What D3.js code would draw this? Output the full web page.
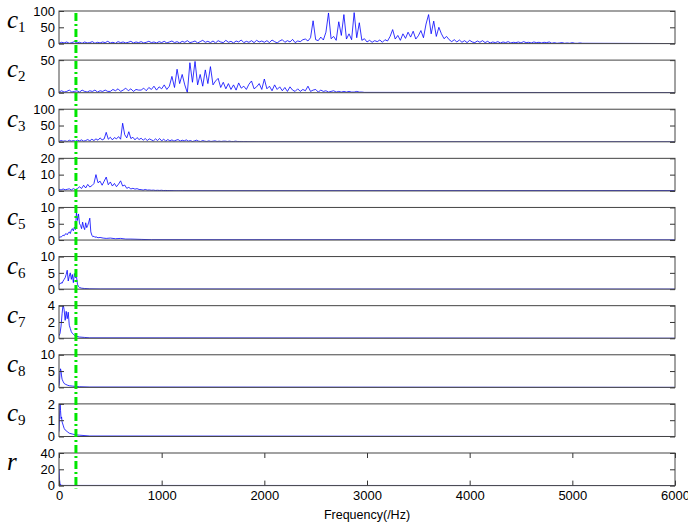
<!DOCTYPE html>
<html>
<head>
<meta charset="utf-8">
<script src="https://cdn.jsdelivr.net/npm/d3@7"></script>
<style>
    body { margin: 0; background: #fff; }
    svg { display: block; font-family: Arial, "Liberation Sans", sans-serif; }
</style>
</head>
<body>
<div id="chart-container"></div>
<script>
// Spectra of the components
// c1..c4 are on a regular frequency grid (Hz step), the rest are freq/amp pairs
const c1Step = 25;
const c1Vals = [
    1,4,2,5,1,3,6,2,4,1,5,2,3,6,1,4,2,5,3,7,2,4,1,6,3,5,2,4,7,2,5,3,6,2,4,7,3,5,2,6,
    3,7,2,5,8,3,6,2,7,4,9,3,5,8,2,6,10,4,7,3,8,2,9,5,3,10,4,7,2,8,5,11,3,7,4,9,3,10,5,8,
    4,9,3,11,6,2,8,12,4,9,5,13,3,8,6,12,
    14,8,18,70,12,9,20,11,35,94,15,22,10,67,25,89,14,30,12,95,18,64,10,15,
    5,10,4,9,6,11,4,12,
    8,22,43,14,25,10,30,16,35,20,38,14,
    24,40,18,60,89,30,69,22,50,30,15,22,
    12,6,12,5,11,4,9,3,10,5,3,8,4,9,3,7,
    2,5,3,6,2,5,3,6,2,4,3,5,2,6,3,4,2,5,3,4,2,4,3,5,
    1,3,1,2,3,1,2,1,3,1,1,2,1
];
const c2Step = 25;
const c2Vals = [
    1,3,1,2,4,1,2,3,1,4,2,1,3,2,4,1,3,2,4,2,
    2,5,3,6,2,4,7,3,6,2,5,4,
    4,7,3,8,5,10,4,9,6,12,5,10,
    25,8,36,14,28,12,0,46,16,48,12,28,
    10,35,14,40,12,18,22,8,16,6,14,5,
    12,4,15,7,10,5,13,18,6,9,14,5,
    21,6,10,3,12,5,9,3,8,2,9,4,
    2,6,2,5,3,10,2,4,5,1,4,2,
    3,1,2,3,1,2,1,2,1,2,1,1,2,1,1,0.5,0.5
];
const c3Step = 20;
const c3Vals = [
    1,4,2,3,1,5,2,4,2,5,3,6,2,4,7,
    3,8,4,9,5,12,6,9,29,8,
    14,6,13,9,16,8,57,22,12,31,
    10,14,6,13,7,11,5,10,4,9,
    6,3,9,4,10,3,8,2,7,3,
    6,2,5,7,2,5,3,6,2,4,1,3,5,2,1,4,2,1,3,1,
    2,3,1,2,1,2,2,1,2,1,1,2,1,1,1,0.5,1,0.5,0.5,0.5,0.5,0.3,0.3,0.3,0.3,0.2
];
const c4Step = 20;
const c4Vals = [
    1,0.6,1.2,0.7,1,1.3,0.6,1.4,0.8,1.5,
    2.5,1.5,3.5,1.8,4,2.4,3.2,4.5,10,5,
    6,3.5,6,8.5,3.8,5.5,3,4.6,2.6,4.2,
    6.2,3,3.6,1.6,2.2,1.2,1.6,1.1,1.4,0.9,
    0.8,0.5,0.9,0.5,0.6,0.4,0.5,0.3,0.4,0.3,0.4,0.2,0.3,0.2,0.2,0.2,0.1,0.1,0.1,0.1,0.1
];
const c5Freq = [0,10,20,30,40,50,60,70,80,90,100,110,120,130,140,150,160,170,180,190,
    200,210,220,230,240,250,260,270,280,290,300,310,320,330,340,350,360,
    380,400,430,460,500,550,600,650,700,800,900,6000];
const c5Amp = [0.8,1,0.9,1.2,1.5,1.3,1.8,2,1.6,2.2, 2.5,2,3,3.5,2.8,4,3.2,8.5,6,8,
    5,4.5,3.5,5.5,4,3.2,5.3,3.8,4.5,5.5, 6.7,2.5,1.5,1,1.2,0.8,1,
    0.7,0.8,0.6,0.5,0.6,0.4,0.5,0.3,0.3,0.2,0.1,0.05];
const c6Freq = [0,10,20,30,40,50,60,70,80,90,100,110,120,130,140,150,160,170,180,190,200,220,250,300,400,6000];
const c6Amp = [1.5,1.6,2,1.8,2.5,3,3.5,4.5,5.8,2.5,4,5,3,4.5,2,4.8,3.5,4,1.5,0.8,0.5,0.3,0.2,0.1,0.05,0];
const c7Freq = [0,10,20,30,40,50,60,70,80,90,100,110,120,130,140,150,170,200,250,300,6000];
const c7Amp = [0.3,0.6,1.5,3,4.2,3.5,2.2,3.3,2.4,3.2,1.6,1.2,0.8,0.6,0.5,0.35,0.25,0.15,0.1,0.05,0];
const c8Freq = [0,5,10,15,20,25,30,40,50,60,80,100,130,160,200,300,6000];
const c8Amp = [0.5,2,4.5,5.7,5,3.5,2.5,1.8,1.2,1,0.7,0.5,0.4,0.3,0.2,0.1,0];
const c9Freq = [0,5,10,15,20,25,30,40,50,60,80,100,130,160,200,300,6000];
const c9Amp = [0.3,1.2,2.1,1.6,1.1,1.2,0.9,0.7,0.5,0.4,0.3,0.2,0.15,0.1,0.08,0.03,0];
const rFreq = [0,5,10,20,40,6000];
const rAmp = [20,8,2,0.5,0.2,0.1];

// panel labels, y limits and y ticks
const labelLetters = ['c','c','c','c','c','c','c','c','c','r'];
const labelSubs = ['1','2','3','4','5','6','7','8','9',''];
const yMaxes = [100,50,100,20,10,10,4,10,2,40];
const yTickVals = [[0,50,100],[0,50],[0,50,100],[0,10,20],[0,5,10],[0,5,10],[0,2,4],[0,5,10],[0,1,2],[0,20,40]];
const xTickVals = [0,1000,2000,3000,4000,5000,6000];
const cutoffFreq = 165;
const freqMax = 6000;

// build [freq, amp] pairs
function gridSeries(step, vals) {
    const pts = vals.map((v, i) => [i * step, v]);
    pts.push([freqMax, 0.2]);
    return pts;
}
function pairSeries(freqs, amps) {
    return freqs.map((f, i) => [f, amps[i]]);
}

const series = [
    gridSeries(c1Step, c1Vals),
    gridSeries(c2Step, c2Vals),
    gridSeries(c3Step, c3Vals),
    gridSeries(c4Step, c4Vals),
    pairSeries(c5Freq, c5Amp),
    pairSeries(c6Freq, c6Amp),
    pairSeries(c7Freq, c7Amp),
    pairSeries(c8Freq, c8Amp),
    pairSeries(c9Freq, c9Amp),
    pairSeries(rFreq, rAmp)
];

const width = 688, height = 523;
const left = 59, right = 675;
const panelH = 32.6;
const tickFont = 'Arial, "Liberation Sans", sans-serif';

const svg = d3.select('#chart-container')
    .append('svg')
    .attr('width', width)
    .attr('height', height);

svg.append('rect').attr('width', width).attr('height', height).attr('fill', '#fff');

const x = d3.scaleLinear().domain([0, freqMax]).range([left, right]);
const panelTop = d3.scaleLinear().domain([0, 9]).range([11, 453]);

series.forEach((data, i) => {
    const top = panelTop(i);
    const y = d3.scaleLinear().domain([0, yMaxes[i]]).range([top + panelH, top]);
    const g = svg.append('g');

    // clip the spectrum to the axes box
    svg.append('clipPath').attr('id', 'clip' + i)
        .append('rect')
        .attr('x', left).attr('y', top)
        .attr('width', right - left).attr('height', panelH);

    const line = d3.line().x(d => x(d[0])).y(d => y(d[1]));
    g.append('path')
        .datum(data)
        .attr('clip-path', 'url(#clip' + i + ')')
        .attr('d', line)
        .attr('fill', 'none')
        .attr('stroke', '#0000ff')
        .attr('stroke-width', 0.8);

    // left axis (ticks inside) and right-side tick marks
    const yAxis = d3.axisLeft(y).tickValues(yTickVals[i]).tickSize(-5).tickPadding(4).tickFormat(d3.format('d'));
    const ga = g.append('g').attr('transform', `translate(${left},0)`).call(yAxis);
    ga.select('.domain').remove();
    ga.selectAll('text').attr('font-size', 13).attr('fill', '#000').attr('font-family', tickFont);
    ga.selectAll('line').attr('stroke', '#333');

    const gr = g.append('g').attr('transform', `translate(${right},0)`)
        .call(d3.axisRight(y).tickValues(yTickVals[i]).tickSize(-5).tickFormat(''));
    gr.select('.domain').remove();
    gr.selectAll('line').attr('stroke', '#333');

    // bottom panel carries the frequency axis
    if (i === 9) {
        const xb = g.append('g').attr('transform', `translate(0,${top + panelH})`)
            .call(d3.axisBottom(x).tickValues(xTickVals).tickSize(-5).tickPadding(5).tickFormat(d3.format('d')));
        xb.select('.domain').remove();
        xb.selectAll('text').attr('font-size', 13).attr('fill', '#000').attr('font-family', tickFont);
        xb.selectAll('line').attr('stroke', '#333');
        const xt = g.append('g').attr('transform', `translate(0,${top})`)
            .call(d3.axisTop(x).tickValues(xTickVals).tickSize(-5).tickFormat(''));
        xt.select('.domain').remove();
        xt.selectAll('line').attr('stroke', '#333');
    }

    // axes box
    g.append('rect')
        .attr('x', left).attr('y', top)
        .attr('width', right - left).attr('height', panelH)
        .attr('fill', 'none')
        .attr('stroke', '#444')
        .attr('stroke-width', 1);

    // math-style label
    const lbl = g.append('text')
        .attr('x', 7)
        .attr('y', top + panelH / 2 + 1)
        .attr('font-family', '"Liberation Serif", "DejaVu Serif", serif');
    lbl.append('tspan')
        .attr('font-style', 'italic')
        .attr('font-size', 25)
        .text(labelLetters[i]);
    if (labelSubs[i]) {
        lbl.append('tspan')
            .attr('font-size', 15)
            .attr('dy', 4)
            .text(labelSubs[i]);
    }
});

// cut-off frequency marker
svg.append('line')
    .attr('x1', x(cutoffFreq)).attr('x2', x(cutoffFreq))
    .attr('y1', panelTop(0) + 2).attr('y2', panelTop(9) + panelH + 3)
    .attr('stroke', '#00e600')
    .attr('stroke-width', 3)
    .attr('stroke-dasharray', '8,3,2,3');

svg.append('text')
    .attr('x', (left + right) / 2)
    .attr('y', 519)
    .attr('text-anchor', 'middle')
    .attr('font-size', 12.5)
    .attr('font-family', tickFont)
    .text('Frequency(/Hz)');
</script>
</body>
</html>
